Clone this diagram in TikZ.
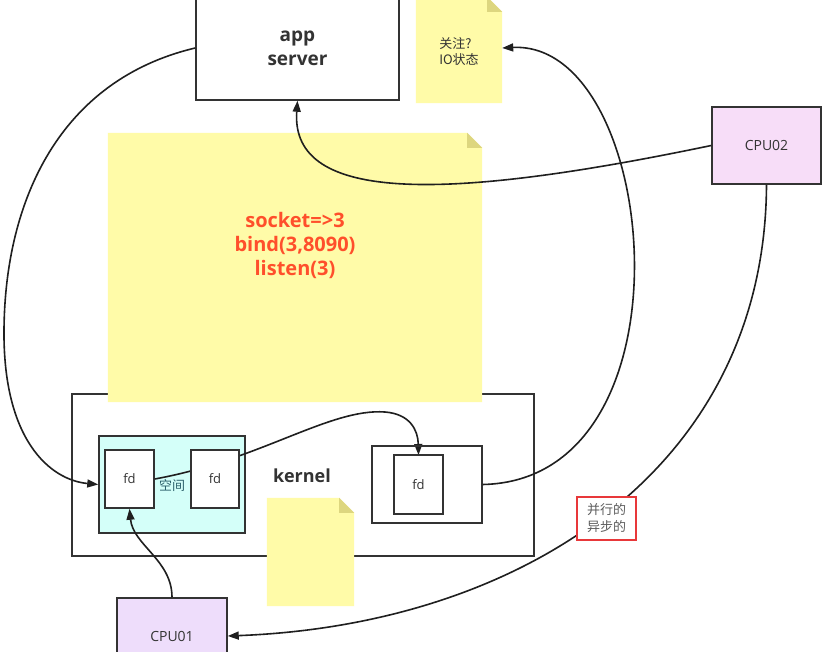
\documentclass[tikz,border=0pt]{standalone}
\usepackage{fontspec}
\setmainfont{Open Sans}
\newfontfamily\cjk{Noto Sans CJK SC}
\usetikzlibrary{arrows.meta,calc}
\definecolor{noteY}{HTML}{FFFBA8}
\definecolor{noteF}{HTML}{DDD67F}
\definecolor{cyanF}{HTML}{D4FFF9}
\definecolor{cpuA}{HTML}{EEDDFB}
\definecolor{cpuB}{HTML}{F7DDF8}
\definecolor{edge}{HTML}{333333}
\definecolor{redT}{HTML}{FF4F2B}
\definecolor{redB}{HTML}{E8383A}
\definecolor{tealT}{HTML}{2A5F6A}
\newcommand\drawnote[1]{%
  \fill[noteY] (#1.south west) |- ($(#1.north east)+(-15,0)$) -- ($(#1.north east)+(0,15)$) |- cycle;
  \fill[noteF] ($(#1.north east)+(-15,0)$) -- ($(#1.north east)+(-15,15)$) -- ($(#1.north east)+(0,15)$) -- cycle;}
\begin{document}
\begin{tikzpicture}[x=1pt,y=-1pt,
 box/.style={draw=edge, line width=1.5pt, rectangle, inner sep=0pt, text=edge},
 conn/.style={draw=black!88, line width=1.6pt, -{Triangle[length=11pt,width=8pt]}},
 notebox/.style={rectangle, inner sep=0pt},
 lbl/.style={inner sep=0pt, text=edge},
]
\clip (0,0) rectangle (824,652);
\fill[white] (0,0) rectangle (824,652);

% kernel
\node[box, minimum width=462pt, minimum height=162pt] (kernel) at (303,475) {};
% big note
\node[notebox, minimum width=374pt, minimum height=269pt] (note2) at (295,267.5) {};
\drawnote{note2}
\node[lbl, text=redT, font=\bfseries\fontsize{20}{24}\selectfont, align=center] (code) at (295,245) {socket=>3\\bind(3,8090)\\listen(3)};

% cyan area
\node[box, fill=cyanF, minimum width=146pt, minimum height=97pt] (cyan) at (172,484.5) {};
\node[box, fill=white, minimum width=49pt, minimum height=58pt, font=\fontsize{13}{15}\selectfont] (fd1) at (129.5,479) {fd};
\draw[conn] (fd1.east) .. controls (260,460) and (330,408) .. (385,412) .. controls (410,414) and (418,430) .. (418.5,455);
\node[box, fill=white, minimum width=48pt, minimum height=58pt, font=\fontsize{13}{15}\selectfont] (fd2) at (215,479) {fd};
\node[lbl, text=tealT, font=\cjk\fontsize{13}{15}\selectfont] (space) at (172,486) {空间};

\node[lbl, font=\bfseries\fontsize{18}{22}\selectfont] (klabel) at (302,476) {kernel};
\node[box, minimum width=110pt, minimum height=77pt] (rbox) at (427,484.5) {};
\node[box, fill=white, minimum width=49pt, minimum height=59pt, font=\fontsize{13}{15}\selectfont] (fd3) at (418.5,484.5) {fd};

% small note
\node[notebox, minimum width=87pt, minimum height=108pt] (note3) at (310.5,552) {};
\drawnote{note3}

% app server
\node[box, fill=white, minimum width=203pt, minimum height=104pt, align=center, font=\bfseries\fontsize{19}{24}\selectfont] (app) at (297.5,48) {app\\server};
% note 1
\node[notebox, minimum width=86pt, minimum height=106pt] (note1) at (459,50) {};
\drawnote{note1}
\node[lbl, font=\cjk\fontsize{13}{16}\selectfont, align=left] (note1t) at (459,52) {关注?\\IO状态};

% CPUs
\node[box, fill=cpuB, minimum width=109pt, minimum height=77pt, font=\fontsize{14}{16}\selectfont] (cpu2) at (766.5,145.5) {CPU02};
\node[box, fill=cpuA, minimum width=110pt, minimum height=76pt, font=\fontsize{14}{16}\selectfont] (cpu1) at (172,636) {CPU01};

% connectors
\draw[conn] (app.west) .. controls (60,80) and (5,200) .. (4,330) .. controls (3,440) and (50,480) .. (cyan.west);
\draw[conn] (cpu2.west) .. controls (450,200) and (290,205) .. (app.south);
\draw[conn] (rbox.east) .. controls (700,480) and (660,40) .. ($(note1.east)+(0,-2)$);
\draw[conn] (cpu1.north) .. controls (172,560) and (133,545) .. (fd1.south);
\draw[conn] (cpu2.south) .. controls (765,470) and (520,625) .. (cpu1.east);

% red box label
\node[draw=redB, line width=1.6pt, fill=white, minimum width=59pt, minimum height=43pt, inner sep=0pt, align=left, text=edge!80, font=\cjk\fontsize{13}{17}\selectfont] (para) at (606.5,518.5) {并行的\\异步的};
\end{tikzpicture}
\end{document}
